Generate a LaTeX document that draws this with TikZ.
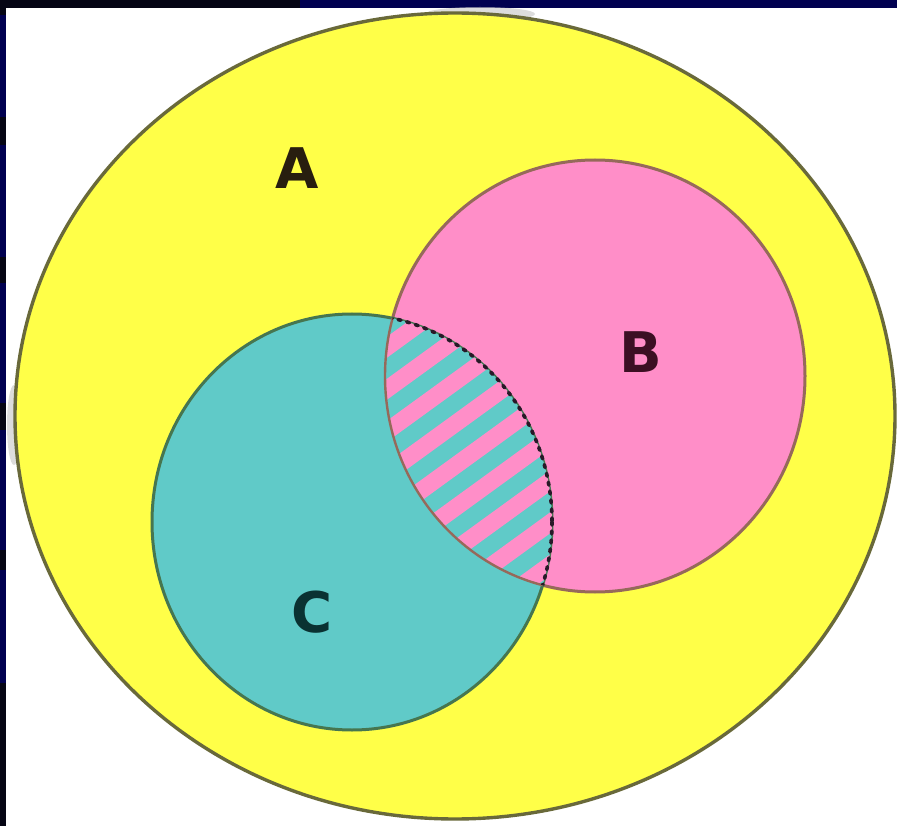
\documentclass[tikz,border=0pt]{standalone}
\usepackage{fontspec}
\newfontfamily\lblfont{DejaVu Sans}
\definecolor{navy}{RGB}{0,0,80}
\definecolor{nearblack}{RGB}{5,5,20}
\definecolor{ayellow}{RGB}{255,255,72}
\definecolor{bpink}{RGB}{255,142,200}
\definecolor{cteal}{RGB}{96,202,200}
\definecolor{aline}{RGB}{105,105,58}
\definecolor{bline}{RGB}{150,105,90}
\definecolor{cline}{RGB}{70,118,80}
\definecolor{dotc}{RGB}{40,25,40}
\definecolor{txa}{RGB}{40,30,15}
\definecolor{txb}{RGB}{60,15,35}
\definecolor{txc}{RGB}{10,50,50}
\tikzset{
  regionA/.style={fill=ayellow, draw=aline, line width=3.4pt},
  regionB/.style={fill=bpink, draw=bline, line width=3pt},
  regionC/.style={fill=cteal, draw=cline, line width=3pt},
  lbl/.style={font=\lblfont\bfseries\fontsize{56}{56}\selectfont, inner sep=0pt},
  dotarc/.style={draw=dotc, line width=3.6pt, dash pattern=on 3pt off 6pt, line cap=round},
  stripe/.style={draw=bpink, line width=17pt},
  band/.style={fill=navy},
  blackseg/.style={fill=nearblack}
}
\begin{document}
\begin{tikzpicture}[x=1pt,y=-1pt]
\useasboundingbox (0,0) rectangle (897,826);
% background
\fill[white] (0,0) rectangle (897,826);
\fill[band] (0,0) rectangle (897,8);
\fill[band] (0,0) rectangle (6,826);
\fill[blackseg] (0,0) rectangle (300,8);
\fill[blackseg] (0,0) rectangle (6,15);
\fill[blackseg] (0,117) rectangle (6,145);
\fill[blackseg] (0,257) rectangle (6,283);
\fill[blackseg] (0,403) rectangle (6,430);
\fill[blackseg] (0,550) rectangle (6,570);
\fill[blackseg] (0,683) rectangle (6,826);
% faint shadows
\fill[gray!45, opacity=0.6] (480,14) ellipse [x radius=55, y radius=7];
\fill[gray!45, opacity=0.6] (14,425) ellipse [x radius=7, y radius=40];
% centres
\coordinate (ca) at (455,416);
\coordinate (cb) at (595,376);
\coordinate (cc) at (352,522);
% set A
\path[regionA] (ca) ellipse [x radius=440, y radius=403];
% set B
\path[regionB] (cb) ellipse [x radius=210, y radius=216];
% set C
\path[regionC] (cc) ellipse [x radius=200, y radius=208];
% striped intersection
\begin{scope}
  \clip (cb) ellipse [x radius=210, y radius=216];
  \clip (cc) ellipse [x radius=200, y radius=208];
  \fill[cteal] (300,250) rectangle (620,660);
  \begin{scope}[shift={(470,455)}, rotate=36]
    \foreach \i in {-10,...,10} \draw[stripe] (-320,\i*34) -- (320,\i*34);
  \end{scope}
\end{scope}
% left edge of the lens (B's outline inside C)
\begin{scope}
  \clip (cc) ellipse [x radius=200, y radius=208];
  \draw[bline, line width=2.4pt] (cb) ellipse [x radius=210, y radius=216];
\end{scope}
% dotted right edge of the lens (C's outline inside B)
\begin{scope}
  \clip (cb) ellipse [x radius=210, y radius=216];
  \draw[dotarc] (cc) ellipse [x radius=200, y radius=208];
\end{scope}
% labels
\node[lbl, text=txa] (la) at (297,168) {A};
\node[lbl, text=txb] (lb) at (641,352) {B};
\node[lbl, text=txc] (lc) at (312,612) {C};
\end{tikzpicture}
\end{document}
